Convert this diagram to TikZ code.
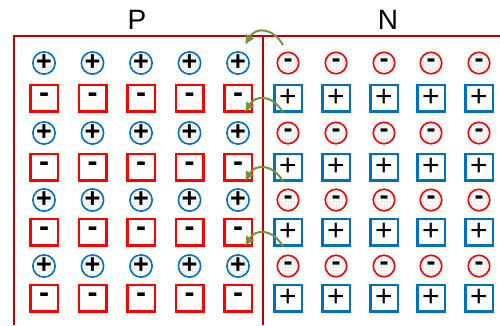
\documentclass[tikz,border=0pt]{standalone}
\usepackage{fontspec}
\setmainfont{Liberation Sans}
\usetikzlibrary{arrows.meta,patterns}

\definecolor{ionred}{HTML}{FF0000}
\definecolor{ionblue}{HTML}{0070C0}
\definecolor{framered}{HTML}{C00000}
\definecolor{jumpgreen}{HTML}{77933C}

\begin{document}
\begin{tikzpicture}[
    x=1pt,y=1pt,
    every node/.style={inner sep=0pt},
    ion/.style={draw,line width=2.5pt,minimum width=27.5pt,minimum height=26.5pt,text=black,font=\fontsize{30}{30}\selectfont},
    carrier/.style={draw,circle,line width=1.6pt,minimum size=21.5pt,pattern=dots,pattern color=black!45,text=black,font=\bfseries\fontsize{27}{27}\selectfont},
    acceptor/.style={ion,draw=ionred,font=\bfseries\fontsize{30}{30}\selectfont},
    donor/.style={ion,draw=ionblue},
    hole/.style={carrier,draw=ionblue},
    electron/.style={carrier,draw=ionred},
    jump/.style={-{Latex[length=10pt,width=10pt]},line width=2pt,jumpgreen}
]
\useasboundingbox (0,0) rectangle (500,325);

% junction frame
\draw[framered,line width=1.5pt] (14,0) |- (500,289);
\draw[framered,line width=1.5pt] (263,0) -- (263,289);
\node[font=\fontsize{28}{28}\selectfont] (plabel) at (137,305) {P};
\node[font=\fontsize{28}{28}\selectfont] (nlabel) at (388,305) {N};

% carriers and fixed ions
\foreach \r/\cy/\sy in {1/262/227,2/192/158,3/125/93,4/59/27}{
  \foreach \c/\px/\nx in {1/44/288,2/92.5/336,3/141/384,4/189.5/431,5/238/479}{
    \node[hole] (h-\r-\c) at (\px,\cy) {+};
    \node[acceptor] (a-\r-\c) at (\px,\sy) {-};
    \node[electron] (e-\r-\c) at (\nx,\cy) {-};
    \node[donor] (d-\r-\c) at (\nx,\sy) {+};
  }
}

% diffusion across the junction
\draw[jump] ([shift={(-5,18)}]e-1-1.center) to[out=120,in=60,looseness=1.4] ([shift={(7,18)}]h-1-5.center);
\foreach \r in {1,2,3}{
  \draw[jump] ([xshift=-5pt]d-\r-1.south) to[out=120,in=60,looseness=1.4] ([xshift=7pt]a-\r-5.south);
}
\end{tikzpicture}
\end{document}
